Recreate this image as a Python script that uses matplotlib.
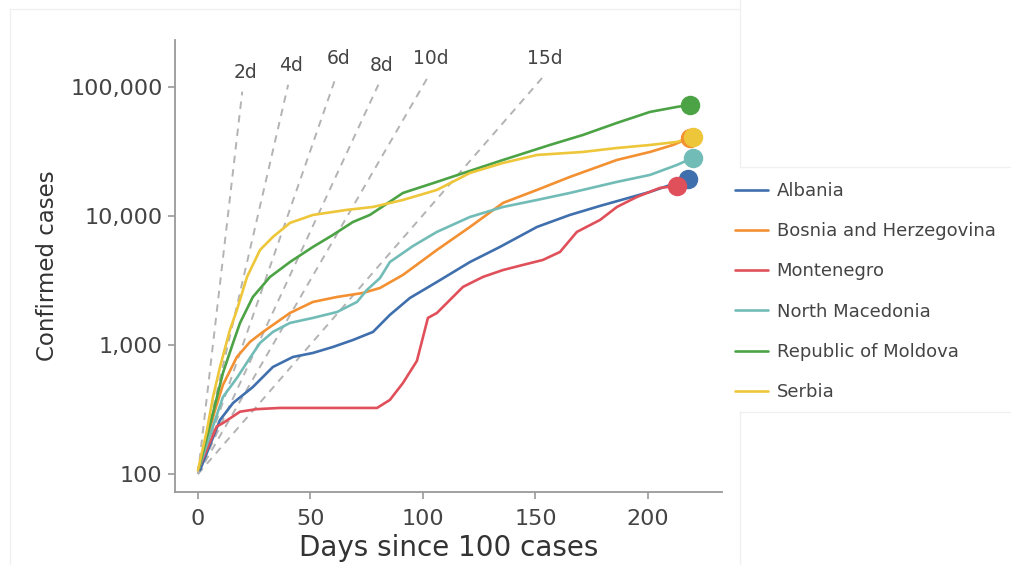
import matplotlib.pyplot as plt
import numpy as np
from matplotlib.lines import Line2D
from matplotlib.ticker import FixedLocator, FuncFormatter, NullLocator

# days since the 100th case, and cumulative confirmed cases
albania_days = [0.9, 9.8, 15.6, 24.4, 33.3, 42.2, 51.1, 60, 68.9, 77.8, 85.3, 94.2,
                106.2, 120.9, 134.2, 150.7, 165.3, 178.7, 200.9, 217.8]
albania_cases = [107, 262, 355, 472, 675, 807, 867, 965, 1093, 1262, 1710, 2313,
                 3077, 4395, 5750, 8220, 10180, 11960, 15360, 19360]

bosnia_days = [0.4, 7.6, 11.1, 17.3, 23.1, 28.9, 40.9, 51.1, 61.8, 73.3, 80.9, 91.1,
               106.2, 120.9, 135.6, 150.7, 165.3, 186.2, 200.9, 211.1, 218.7]
bosnia_cases = [111, 313, 490, 807, 1055, 1262, 1770, 2155, 2355, 2530, 2765, 3490,
                5450, 8220, 12620, 15910, 20060, 27160, 31330, 35480, 40270]

montenegro_days = [0.4, 8.3, 11.1, 18.7, 26.1, 36.4, 79.6, 85.3, 91.1, 97.3, 102.2,
                   106.2, 112, 117.8, 126.7, 135.6, 144.4, 153.3, 160.9, 168.4,
                   178.7, 186.2, 195.1, 205.3, 212.9]
montenegro_cases = [111, 233, 248, 304, 318, 325, 325, 375, 507, 752, 1620,
                    1770, 2234, 2820, 3370, 3810, 4170, 4560, 5260, 7520,
                    9310, 11740, 14040, 16480, 17100]

macedonia_days = [0.4, 11.1, 17.3, 23.1, 27.6, 33.3, 40.9, 51.1, 61.8, 70.7, 75.1,
                  80.9, 85.3, 95.6, 106.2, 120.9, 135.6, 150.7, 165.3, 186.2,
                  200.9, 212.9, 220]
macedonia_cases = [111, 395, 555, 793, 1037, 1262, 1482, 1620, 1800, 2155, 2670,
                   3300, 4395, 5850, 7520, 9820, 11740, 13300, 15070, 18360,
                   20790, 24850, 28180]

moldova_days = [0.4, 6.7, 11.1, 15.6, 18.7, 24.4, 32, 40.9, 51.1, 60, 68.9, 76.4,
                83.1, 91.1, 106.2, 120.9, 135.6, 156.4, 171.1, 186.2, 200.9,
                212.9, 218.7]
moldova_cases = [111, 297, 607, 1037, 1482, 2355, 3365, 4395, 5750, 7130, 8980,
                 10180, 12160, 15070, 18360, 22350, 27160, 35480, 42430, 52600,
                 64000, 70000, 72500]

serbia_days = [0, 4, 6.7, 9.8, 14.2, 17.3, 21.8, 27.6, 33.3, 40.9, 51.1, 66.2, 77.8,
               91.1, 106.2, 120.9, 135.6, 150.7, 171.1, 186.2, 200.9, 212.9, 220]
serbia_cases = [107, 219, 395, 675, 1306, 1866, 3365, 5450, 6870, 8830, 10180,
                11140, 11740, 13300, 15910, 21530, 25740, 29700, 31330, 33620,
                35480, 37470, 40960]

countries = ["Albania", "Bosnia and Herzegovina", "Montenegro",
             "North Macedonia", "Republic of Moldova", "Serbia"]
colors = ["#3f6fad", "#f39032", "#e0505a", "#72bcb7", "#4ca345", "#eec63a"]
series = [(albania_days, albania_cases), (bosnia_days, bosnia_cases),
          (montenegro_days, montenegro_cases), (macedonia_days, macedonia_cases),
          (moldova_days, moldova_cases), (serbia_days, serbia_cases)]

# doubling-time guides: cases = 100 * 2 ** (day / d)
doubling_days = [2, 4, 6, 8, 10, 15]
guide_top = [92000, 104000, 118000, 104000, 118000, 118000]
guide_labels = ["2d", "4d", "6d", "8d", "10d", "15d"]

W, H = 1011, 565
fig = plt.figure(figsize=(W / 100, H / 100), dpi=100)
ax = fig.add_axes([175 / W, 73 / H, 547 / W, 452 / H])


def px(x, y):
    return x / W, 1 - y / H


# faint panel outlines
for (x0, y0), (x1, y1) in [((10, 9), (740, 9)), ((10, 9), (10, 565)),
                           ((740, 0), (740, 167)), ((740, 167), (1011, 167)),
                           ((740, 412), (1011, 412)), ((740, 412), (740, 565))]:
    a, b = px(x0, y0), px(x1, y1)
    fig.add_artist(Line2D([a[0], b[0]], [a[1], b[1]], color="#f0f0f0", lw=1))

for d, top, lab in zip(doubling_days, guide_top, guide_labels):
    x_end = d * np.log2(top / 100)
    xs = np.linspace(0, x_end, 50)
    ax.plot(xs, 100 * 2 ** (xs / d), color="#b3b3b3", lw=1.4,
            linestyle=(0, (3.8, 3.2)), zorder=1)
    ax.annotate(lab, (x_end, top), xytext=(2, 7), textcoords="offset points",
                ha="center", va="bottom", fontsize=13.5, color="#444444")

for name, c, (days, cases) in zip(countries, colors, series):
    ax.plot(days, cases, color=c, lw=1.9, label=name, zorder=3,
            solid_capstyle="round")
    ax.plot(days[-1], cases[-1], "o", color=c, ms=13, zorder=4)

ax.set_yscale("log")
ax.set_xlim(-10.2, 232.9)
ax.set_ylim(72.5, 231000)
ax.xaxis.set_major_locator(FixedLocator([0, 50, 100, 150, 200]))
ax.yaxis.set_major_locator(FixedLocator([100, 1000, 10000, 100000]))
ax.yaxis.set_minor_locator(NullLocator())
ax.yaxis.set_major_formatter(FuncFormatter(lambda v, p: f"{int(v):,}"))

for s in ["top", "right"]:
    ax.spines[s].set_visible(False)
for s in ["left", "bottom"]:
    ax.spines[s].set_color("#9a9a9a")
    ax.spines[s].set_linewidth(1.3)
ax.tick_params(colors="#9a9a9a", length=5, width=1.2, labelsize=16,
               labelcolor="#444444")
ax.tick_params(axis="x", pad=7)
ax.tick_params(axis="y", pad=4)

ax.set_xlabel("Days since 100 cases", fontsize=20, color="#333333", labelpad=4)
ax.set_ylabel("Confirmed cases", fontsize=16.5, color="#333333", labelpad=8)

fig.legend(loc="upper left", bbox_to_anchor=px(735, 182), frameon=False,
           fontsize=13, labelcolor="#444444", handlelength=1.85,
           handletextpad=0.45, labelspacing=1.23, borderpad=0, borderaxespad=0)

fig.savefig("out.png", dpi=100, facecolor="white")
